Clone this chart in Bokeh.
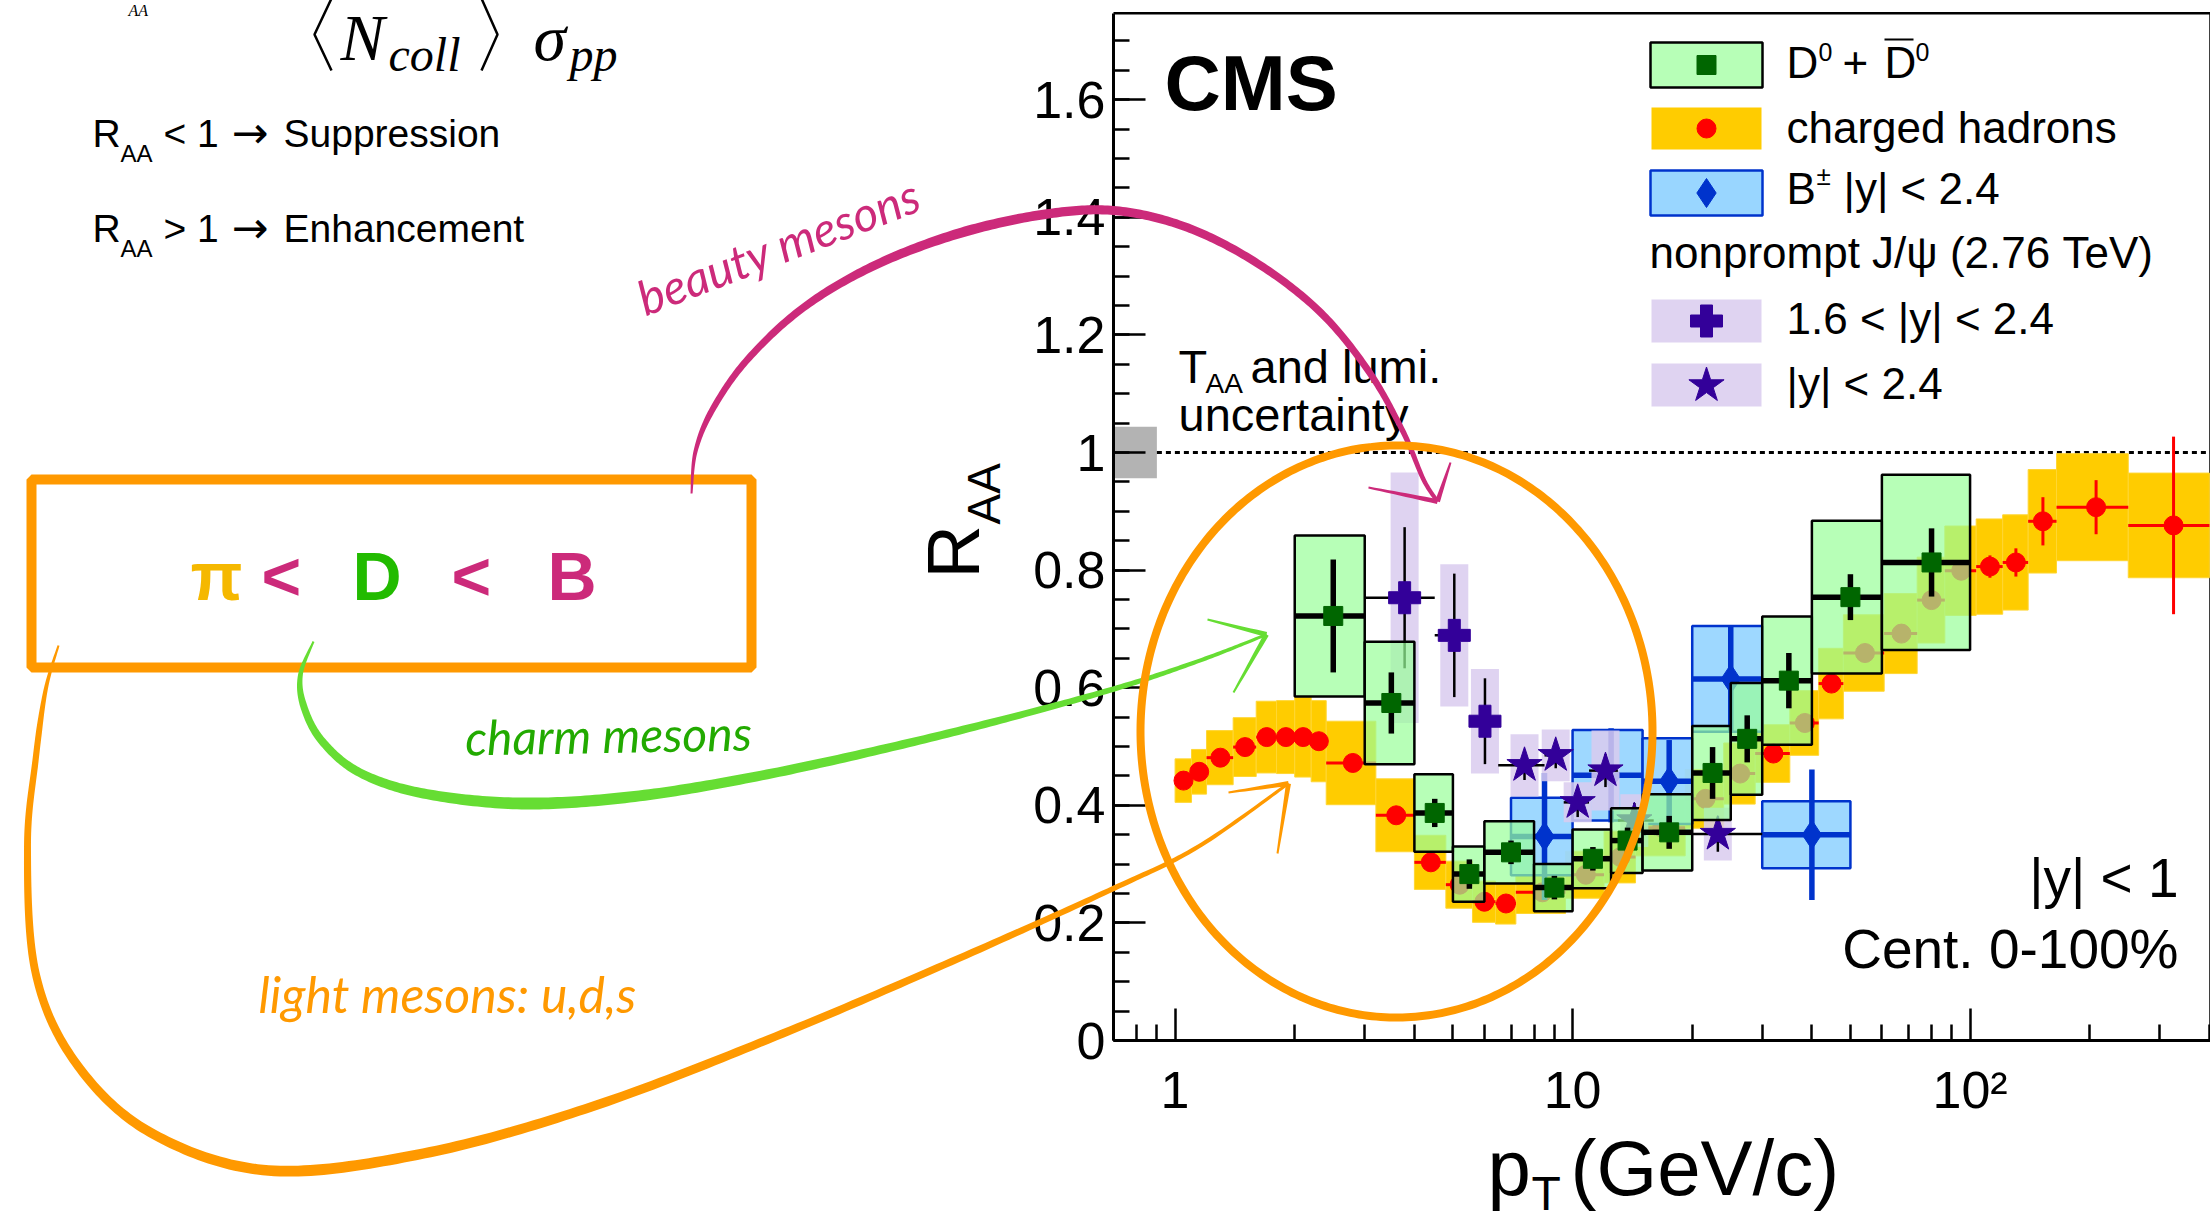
import numpy as np
from bokeh.plotting import figure
from bokeh.models import Range1d, LinearScale, FixedTicker, Label
from bokeh.embed import file_html
from bokeh.resources import INLINE

# ---------------- data ----------------
# charged hadrons, |y|<1, 0-100%
ch_edges = [1.0, 1.1, 1.2, 1.4, 1.6, 1.8, 2.0, 2.2, 2.4, 3.2, 4.0, 4.8, 5.6, 6.4, 7.2, 9.6, 12.0,
            14.4, 19.2, 24.0, 28.8, 35.2, 41.6, 48.0, 60.8, 73.6, 86.4, 103.6, 120.8, 140.0, 165.0,
            250.0, 400.0]
ch_pt = [1.05, 1.15, 1.3, 1.5, 1.7, 1.9, 2.1, 2.3, 2.8, 3.6, 4.4, 5.2, 6.0, 6.8, 8.4, 10.8, 13.2,
         16.8, 21.6, 26.4, 32.0, 38.4, 44.8, 54.4, 67.2, 80.0, 95.0, 112.2, 130.4, 152.5, 207.5, 325.0]
ch_raa = [0.442, 0.457, 0.481, 0.499, 0.516, 0.516, 0.516, 0.509, 0.472, 0.383, 0.303, 0.265, 0.236,
          0.233, 0.252, 0.282, 0.312, 0.362, 0.411, 0.454, 0.488, 0.540, 0.607, 0.659, 0.692, 0.749,
          0.799, 0.806, 0.813, 0.883, 0.907, 0.876]
ch_stat = [0.003, 0.003, 0.003, 0.003, 0.003, 0.003, 0.003, 0.003, 0.003, 0.003, 0.003, 0.003, 0.003,
           0.003, 0.003, 0.004, 0.005, 0.006, 0.007, 0.008, 0.009, 0.010, 0.011, 0.012, 0.013, 0.015,
           0.016, 0.019, 0.024, 0.041, 0.046, 0.151]
ch_sys = [0.037, 0.038, 0.046, 0.050, 0.061, 0.062, 0.068, 0.069, 0.071, 0.062, 0.046, 0.040, 0.035,
          0.035, 0.036, 0.040, 0.044, 0.048, 0.050, 0.052, 0.049, 0.055, 0.060, 0.065, 0.068, 0.073,
          0.076, 0.081, 0.081, 0.088, 0.091, 0.089]

# D0 + D0bar
d_lo = [2, 3, 4, 5, 6, 8, 10, 12.5, 15, 20, 25, 30, 40, 60]
d_hi = [3, 4, 5, 6, 8, 10, 12.5, 15, 20, 25, 30, 40, 60, 100]
d_pt = [2.5, 3.5, 4.5, 5.5, 7.0, 9.0, 11.25, 13.75, 17.5, 22.5, 27.5, 35.0, 50.0, 80.0]
d_raa = [0.722, 0.574, 0.387, 0.283, 0.320, 0.260, 0.309, 0.340, 0.354, 0.455, 0.513, 0.612, 0.754, 0.813]
d_stat = [0.096, 0.052, 0.024, 0.025, 0.020, 0.020, 0.020, 0.022, 0.028, 0.044, 0.040, 0.047, 0.039, 0.058]
d_sys = [0.137, 0.104, 0.066, 0.047, 0.053, 0.040, 0.050, 0.055, 0.065, 0.080, 0.095, 0.109, 0.130, 0.149]

# B+-, |y|<2.4
b_lo = [7, 10, 15, 20, 30]
b_hi = [10, 15, 20, 30, 50]
b_pt = [8.5, 12.5, 17.5, 25.0, 40.0]
b_raa = [0.347, 0.451, 0.441, 0.615, 0.350]
b_stat = [0.108, 0.080, 0.070, 0.090, 0.111]
b_sys = [0.066, 0.077, 0.073, 0.090, 0.057]

# nonprompt J/psi (2.76 TeV), 1.6<|y|<2.4
jf_lo = [3.0, 4.5, 5.5]
jf_hi = [4.5, 5.5, 6.5]
jf_pt = [3.78, 5.04, 6.02]
jf_raa = [0.753, 0.689, 0.543]
jf_stat = [0.120, 0.105, 0.073]
jf_sys = [0.213, 0.121, 0.089]

# nonprompt J/psi (2.76 TeV), |y|<2.4
jc_lo = [6.5, 8.5, 9.5, 11.0, 13.0, 16.0]
jc_hi = [8.5, 9.5, 11.0, 13.0, 16.0, 30.0]
jc_pt = [7.57, 9.07, 10.3, 12.1, 14.3, 23.2]
jc_raa = [0.468, 0.485, 0.405, 0.459, 0.374, 0.351]
jc_stat = [0.025, 0.022, 0.025, 0.028, 0.030, 0.030]
jc_sys = [0.053, 0.044, 0.034, 0.068, 0.045, 0.045]

# T_AA and lumi uncertainty box at R_AA = 1
taa_x = [0.7, 0.9]
taa_unc = 0.044

x_major = [1, 10, 100]
x_minor = [0.7, 0.8, 0.9, 2, 3, 4, 5, 6, 7, 8, 9, 20, 30, 40, 50, 60, 70, 80, 90, 200, 300, 400]
x_labels = {1: "1", 10: "10", 100: "10\u00b2"}
y_major = [0, 0.2, 0.4, 0.6, 0.8, 1, 1.2, 1.4, 1.6]
y_minor = [round(0.05 * i, 2) for i in range(35)]
y_labels = {0: "0", 0.2: "0.2", 0.4: "0.4", 0.6: "0.6", 0.8: "0.8", 1: "1", 1.2: "1.2", 1.4: "1.4", 1.6: "1.6"}

# ---------------- layout (page pixels) ----------------
W, H = 2210, 1222
FL, FB = 1113, 1040          # plot-area left edge and x-axis position
PXU = 588.0                  # pixels per unit of R_AA
DEC = 397.5                  # pixels per decade of pT
X0 = 0.7                     # pT at the plot's left edge
YMAX = 1.747                 # R_AA at the plot's top edge
XL = X0 * 10 ** (-FL / DEC)
XR = X0 * 10 ** ((W - FL) / DEC)
YB = -(H - FB) / PXU
YT = FB / PXU

FONT = "Liberation Sans"
SERIF = "Liberation Serif"
HAND = "Lato"
DJV = "DejaVu Sans"
KMID = {FONT: 0.3465, SERIF: 0.3375, HAND: 0.387, DJV: 0.346}

p = figure(width=W, height=H, x_axis_type="log", x_range=Range1d(XL, XR), y_range=Range1d(YB, YT),
           title=None, toolbar_location=None, output_backend="svg", min_border=0)
p.extra_x_ranges = {"px": Range1d(0, W)}
p.extra_x_scales = {"px": LinearScale()}
p.extra_y_ranges = {"py": Range1d(H, 0)}
p.extra_y_scales = {"py": LinearScale()}
p.background_fill_color = "white"
p.border_fill_color = "white"
p.outline_line_color = None
p.xgrid.visible = False
p.ygrid.visible = False

xa, ya = p.xaxis[0], p.yaxis[0]
xa.fixed_location = 0
xa.bounds = (X0, XR)
ya.fixed_location = X0
ya.bounds = (0, YMAX)
for ax in (xa, ya):
    ax.axis_line_width = 3
    ax.major_tick_in = 32
    ax.major_tick_out = 0
    ax.minor_tick_in = 16
    ax.minor_tick_out = 0
    ax.major_tick_line_width = 2.5
    ax.minor_tick_line_width = 2.5
    ax.major_label_text_font = FONT
    ax.major_label_text_font_size = "52px"
    ax.major_label_text_color = "black"
xa.ticker = FixedTicker(ticks=x_major, minor_ticks=x_minor)
xa.major_label_overrides = x_labels
xa.major_label_standoff = 20
ya.ticker = FixedTicker(ticks=y_major, minor_ticks=y_minor)
ya.major_label_overrides = y_labels
ya.major_label_standoff = 8

# frame top / right edges
p.line(x=[X0, XR, XR], y=[YMAX, YMAX, 0], line_color="black", line_width=2.5)

# ---------------- data marks ----------------
lo = np.array(ch_edges[:-1]); hi = np.array(ch_edges[1:])
cr = np.array(ch_raa); cs = np.array(ch_sys); cst = np.array(ch_stat)

p.quad(left=taa_x[0], right=taa_x[1], bottom=1 - taa_unc, top=1 + taa_unc,
       fill_color="#b3b3b3", line_color=None)
p.line(x=[taa_x[1], XR], y=[1, 1], line_dash="5 4", line_width=3, line_color="black")

p.quad(left=lo, right=hi, bottom=cr - cs, top=cr + cs, fill_color="#ffcc00", line_color="#ffd633",
       line_width=1)
p.segment(x0=lo, x1=hi, y0=cr, y1=cr, line_color="#ff0000", line_width=3)
p.segment(x0=ch_pt, x1=ch_pt, y0=cr - cst, y1=cr + cst, line_color="#ff0000", line_width=3)
p.scatter(ch_pt, ch_raa, marker="circle", size=19, color="#ff0000")

br = np.array(b_raa); bs = np.array(b_sys); bst = np.array(b_stat)
p.quad(left=b_lo, right=b_hi, bottom=br - bs, top=br + bs, fill_color="#99d6ff", fill_alpha=0.95,
       line_color="#0033cc", line_width=2.5)
p.segment(x0=b_lo, x1=b_hi, y0=br, y1=br, line_color="#0033cc", line_width=5.5)
p.segment(x0=b_pt, x1=b_pt, y0=br - bst, y1=br + bst, line_color="#0033cc", line_width=5.5)
p.scatter(b_pt, b_raa, marker="diamond", size=29, color="#0033cc")

for jlo, jhi, jpt, jr, jst, jsy, mk, ms in (
        (jf_lo, jf_hi, jf_pt, jf_raa, jf_stat, jf_sys, "plus", 32),
        (jc_lo, jc_hi, jc_pt, jc_raa, jc_stat, jc_sys, "star", 37)):
    jr = np.array(jr)
    p.rect(x=jpt, y=jr, width=28, width_units="screen", height=2 * np.array(jsy),
           fill_color="#d9cbee", fill_alpha=0.85, line_color=None)
    p.segment(x0=jlo, x1=jhi, y0=jr, y1=jr, line_color="black", line_width=2.5)
    p.segment(x0=jpt, x1=jpt, y0=jr - np.array(jst), y1=jr + np.array(jst), line_color="black",
              line_width=2.5)
    p.scatter(jpt, jr, marker=mk, size=ms, color="#330099")

dr = np.array(d_raa); ds = np.array(d_sys); dst = np.array(d_stat)
p.quad(left=d_lo, right=d_hi, bottom=dr - ds, top=dr + ds, fill_color="#99ff99", fill_alpha=0.7,
       line_color="black", line_width=2.5)
p.segment(x0=d_lo, x1=d_hi, y0=dr, y1=dr, line_color="black", line_width=5.5)
p.segment(x0=d_pt, x1=d_pt, y0=dr - dst, y1=dr + dst, line_color="black", line_width=5.5)
p.scatter(d_pt, d_raa, marker="square", size=19, color="#006600")

# ---------------- legend (page-pixel coordinates) ----------------
PX = dict(x_range_name="px", y_range_name="py")
LX0, LX1, LXC = 1650, 1762, 1706
p.quad(left=LX0, right=LX1, top=42, bottom=87, fill_color="#99ff99", fill_alpha=0.7,
       line_color="black", line_width=2.5, **PX)
p.scatter([LXC], [64.5], marker="square", size=19, color="#006600", **PX)
p.quad(left=LX0 + 1, right=LX1 - 1, top=107, bottom=149, fill_color="#ffcc00", line_color=None, **PX)
p.scatter([LXC], [128], marker="circle", size=19, color="#ff0000", **PX)
p.quad(left=LX0, right=LX1, top=170, bottom=215, fill_color="#99d6ff", line_color="#0033cc",
       line_width=2.5, **PX)
p.scatter([LXC], [192.5], marker="diamond", size=29, color="#0033cc", **PX)
p.quad(left=LX0 + 1, right=LX1 - 1, top=299, bottom=342, fill_color="#d9cbee", fill_alpha=0.85,
       line_color=None, **PX)
p.scatter([LXC], [320.5], marker="plus", size=32, color="#330099", **PX)
p.quad(left=LX0 + 1, right=LX1 - 1, top=363, bottom=406, fill_color="#d9cbee", fill_alpha=0.85,
       line_color=None, **PX)
p.scatter([LXC], [385], marker="star", size=37, color="#330099", **PX)
p.segment(x0=[1884], x1=[1913], y0=[39], y1=[39], line_color="black", line_width=2, **PX)


def lab(x, y, text, size, color="black", font=FONT, style="normal", align="left", angle=0.0):
    k = KMID[font] * size
    p.add_layout(Label(x=x - k * np.sin(angle), y=y - k * np.cos(angle), text=text,
                       text_font=font, text_font_size=f"{size}px", text_color=color,
                       text_font_style=style, text_align=align, text_baseline="middle",
                       angle=angle, **PX))


# legend texts
lab(1786, 77, "D", 44)
lab(1818, 60, "0", 25)
lab(1842, 77, "+", 44)
lab(1884, 77, "D", 44)
lab(1915, 60, "0", 25)
lab(1786, 142, "charged hadrons", 44)
lab(1786, 203, "B", 44)
lab(1816, 185, "\u00b1", 26)
lab(1843, 203, "|y| < 2.4", 44)
lab(1649, 267, "nonprompt J/\u03c8 (2.76 TeV)", 44)
lab(1786, 333, "1.6 < |y| < 2.4", 44)
lab(1786, 398, "|y| < 2.4", 44)

lab(1164, 110, "CMS", 78, style="bold")
lab(1178, 382, "T", 47)
lab(1205, 393, "AA", 28)
lab(1250, 382, " and lumi.", 47)
lab(1178, 430, "uncertainty", 47)
lab(2178, 897, "|y| < 1", 55, align="right")
lab(2178, 968, "Cent. 0-100%", 55, align="right")

# axis titles
lab(979, 578, "R", 74, angle=np.pi / 2)
lab(999, 524, "AA", 46, angle=np.pi / 2)
lab(1487, 1195, "p", 78)
lab(1531, 1210, "T", 48)
lab(1570, 1195, "(GeV/c)", 78)

# ---------------- left-hand annotations ----------------
lab(340, 59, "N", 66, font=SERIF, style="italic")
lab(388, 70, "coll", 48, font=SERIF, style="italic")
lab(533, 59, "\u03c3", 66, font=SERIF, style="italic")
lab(569, 70, "pp", 48, font=SERIF, style="italic")
lab(128, 15, "AA", 16, font=SERIF, style="italic")
p.line([331, 314, 331], [-2, 34, 70], line_color="black", line_width=2.5, level="overlay", **PX)
p.line([481, 497, 481], [-2, 34, 70], line_color="black", line_width=2.5, level="overlay", **PX)

for yb, rel, word in ((147, "< 1", "Suppression"), (242, "> 1", "Enhancement")):
    lab(92, yb, "R", 39)
    lab(120, yb + 14, "AA", 24)
    lab(163, yb, rel, 39)
    lab(231, yb, "\u2192", 44, font=DJV)
    lab(283, yb, word, 39)

PINK, GREEN, ORANGE = "#cc2a7a", "#66dd33", "#ff9900"
lab(190, 599, "\u03c0", 68, color="#f5b800", style="bold")
lab(261, 599, "<", 68, color=PINK, style="bold")
lab(352, 599, "D", 68, color="#22bb00", style="bold")
lab(451, 599, "<", 68, color=PINK, style="bold")
lab(547, 599, "B", 68, color=PINK, style="bold")

lab(645, 316, "beauty mesons", 48, color=PINK, font=HAND, style="italic", angle=np.radians(21))
lab(465, 755, "charm mesons", 48, color="#22aa00", font=HAND, style="italic", angle=np.radians(1))
lab(258, 1013, "light mesons: u,d,s", 50, color=ORANGE, font=HAND, style="italic")


def catmull(pts, n=24):
    pts = np.asarray(pts, float)
    P = np.vstack([pts[0], pts, pts[-1]])
    out = []
    t = np.linspace(0, 1, n, endpoint=False)[:, None]
    for i in range(1, len(P) - 2):
        p0, p1, p2, p3 = P[i - 1], P[i], P[i + 1], P[i + 2]
        out.append(0.5 * (2 * p1 + (p2 - p0) * t + (2 * p0 - 5 * p1 + 4 * p2 - p3) * t ** 2
                          + (-p0 + 3 * p1 - 3 * p2 + p3) * t ** 3))
    out.append(pts[-1][None, :])
    return np.vstack(out)


def ribbon(path, prof, color, alpha=1.0):
    path = np.asarray(path, float)
    d = np.gradient(path, axis=0)
    L = np.hypot(d[:, 0], d[:, 1])
    L[L == 0] = 1
    nx, ny = -d[:, 1] / L, d[:, 0] / L
    seg = np.hypot(np.diff(path[:, 0]), np.diff(path[:, 1]))
    s = np.concatenate([[0], np.cumsum(seg)])
    s = s / s[-1]
    ws, wv = zip(*prof)
    w = np.interp(s, ws, wv) / 2
    xs = np.concatenate([path[:, 0] + nx * w, (path[:, 0] - nx * w)[::-1]])
    ys = np.concatenate([path[:, 1] + ny * w, (path[:, 1] - ny * w)[::-1]])
    p.patch(xs, ys, fill_color=color, fill_alpha=alpha, line_alpha=0, level="overlay", **PX)


def straight(a, b, prof, color):
    ribbon(np.linspace(a, b, 12), prof, color)


# orange box
p.quad(left=31, right=751, top=479, bottom=667, fill_alpha=0, line_color=ORANGE, line_width=10,
       level="overlay", **PX)

# pink (beauty) arrow
pink = [(691, 493), (695, 451), (712, 409), (747, 359), (803, 307), (874, 265), (958, 233),
        (1043, 214), (1113, 210), (1184, 226), (1254, 261), (1318, 310), (1367, 369),
        (1402, 430), (1423, 479), (1437, 501)]
ribbon(catmull(pink), [(0, 2), (0.08, 6), (0.4, 10), (0.85, 7), (1, 4)], PINK)
straight((1437, 501), (1368, 487), [(0, 5), (1, 2)], PINK)
straight((1437, 501), (1450, 462), [(0, 5), (1, 2)], PINK)

# green (charm) arrow
green = [(313, 641), (300, 674), (303, 705), (321, 740), (359, 772), (423, 793), (521, 803),
         (634, 796), (761, 775), (902, 744), (1029, 712), (1128, 684), (1205, 658), (1266, 634)]
ribbon(catmull(green), [(0, 2), (0.06, 7), (0.3, 12), (0.7, 8), (1, 3)], GREEN)
straight((1266, 634), (1207, 619), [(0, 5), (1, 2)], GREEN)
straight((1266, 634), (1233, 692), [(0, 5), (1, 2)], GREEN)

# orange (light) arrow
orange = [(58, 645), (45, 690), (35, 760), (27, 846), (35, 972), (75, 1062), (150, 1132),
          (268, 1170), (423, 1153), (592, 1106), (775, 1036), (958, 958), (1113, 888),
          (1198, 846), (1288, 783)]
ribbon(catmull(orange), [(0, 2), (0.05, 6), (0.4, 11), (0.8, 7), (1, 3)], ORANGE)
straight((1288, 783), (1228, 792), [(0, 5), (1, 2)], ORANGE)
straight((1288, 783), (1277, 853), [(0, 5), (1, 2)], ORANGE)

# orange circle around the low-pT region
t = np.linspace(-np.pi / 2 - 0.35, 3 * np.pi / 2 + 0.15, 400)
ell = np.column_stack([1396 + 256 * np.cos(t), 731 + 286 * np.sin(t)])
ribbon(ell, [(0, 3), (0.04, 8), (0.96, 8), (1, 3)], ORANGE)

open("out.html", "w").write(file_html(p, INLINE))
